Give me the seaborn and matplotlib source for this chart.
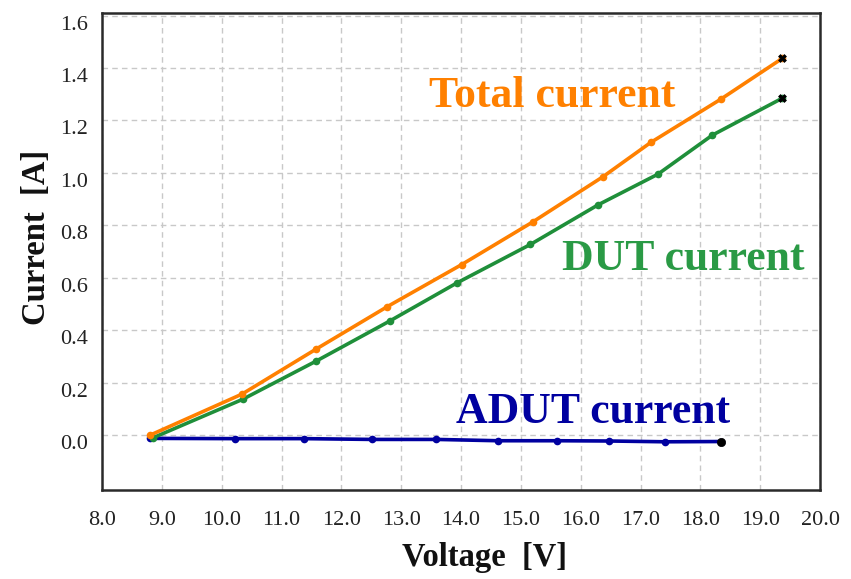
import matplotlib
matplotlib.use("Agg")
import matplotlib.pyplot as plt
import matplotlib.transforms as mtransforms
import numpy as np
import pandas as pd
import seaborn as sns

# Measured I-V data
voltage_total = [8.81, 10.34, 11.58, 12.77, 14.01, 15.20, 16.37, 17.17, 18.34, 19.37]
current_total = [0.00, 0.156, 0.328, 0.490, 0.650, 0.813, 0.985, 1.116, 1.281, 1.437]

voltage_dut = [8.86, 10.35, 11.58, 12.81, 13.93, 15.16, 16.29, 17.29, 18.20, 19.37]
current_dut = [-0.01, 0.136, 0.282, 0.435, 0.580, 0.727, 0.878, 0.995, 1.144, 1.285]

voltage_adut = [8.81, 10.22, 11.38, 12.51, 13.59, 14.62, 15.61, 16.47, 17.41, 18.35]
current_adut = [-0.013, -0.014, -0.014, -0.017, -0.017, -0.022, -0.022, -0.023, -0.026, -0.025]

x_ticks = [8.0, 9.0, 10.0, 11.0, 12.0, 13.0, 14.0, 15.0, 16.0, 17.0, 18.0, 19.0, 20.0]
y_ticks = [0.0, 0.2, 0.4, 0.6, 0.8, 1.0, 1.2, 1.4, 1.6]

series_names = ["Total current", "DUT current", "ADUT current"]
series_colors = ["#FF8000", "#1F8F3A", "#0000A0"]
label_colors = ["#FF8000", "#2A9A45", "#0000A0"]

sns.set_theme(style="white")
plt.rcParams["font.family"] = ["Liberation Serif", "DejaVu Serif"]

df = pd.concat([
    pd.DataFrame({"Voltage": voltage_total, "Current": current_total, "Series": series_names[0]}),
    pd.DataFrame({"Voltage": voltage_dut, "Current": current_dut, "Series": series_names[1]}),
    pd.DataFrame({"Voltage": voltage_adut, "Current": current_adut, "Series": series_names[2]}),
], ignore_index=True)

fig = plt.figure(figsize=(8.51, 5.79), dpi=100)
ax = fig.add_axes([0.1199, 0.1537, 0.8437, 0.8238])

palette = dict(zip(series_names, series_colors))
sns.lineplot(data=df, x="Voltage", y="Current", hue="Series", palette=palette,
             hue_order=[series_names[2], series_names[1], series_names[0]],
             marker="o", markersize=5.5, markeredgewidth=0, linewidth=2.6,
             legend=False, ax=ax, zorder=3)

# End-point markers
ends = pd.DataFrame({
    "Voltage": [voltage_total[-1], voltage_dut[-1]],
    "Current": [current_total[-1], current_dut[-1]],
})
sns.scatterplot(data=ends, x="Voltage", y="Current", marker="X", s=32,
                color="black", edgecolor="black", linewidth=0.5, ax=ax, zorder=4)
sns.scatterplot(x=[voltage_adut[-1]], y=[current_adut[-1]], marker="o", s=36,
                color="black", edgecolor="black", ax=ax, zorder=4)

ax.set_xlim(8.0, 20.0)
ax.set_ylim(-0.21, 1.61)
ax.set_xticks(x_ticks)
ax.set_xticklabels([f"{v:.1f}" for v in x_ticks])
ax.set_yticks(y_ticks)
ax.set_yticklabels([f"{v:.1f}" for v in y_ticks])
ax.tick_params(axis="both", length=0, labelsize=16, colors="#222222")
ax.tick_params(axis="x", pad=15)
ax.tick_params(axis="y", pad=10)

# Nudge y tick labels slightly downward
offset = mtransforms.ScaledTranslation(0, -7 / 100, fig.dpi_scale_trans)
for lbl in ax.get_yticklabels():
    lbl.set_transform(lbl.get_transform() + offset)

ax.grid(True, linestyle=(0, (4, 3)), color="#C8C8C8", linewidth=1.0, zorder=0)
ax.set_axisbelow(True)
for sp in ax.spines.values():
    sp.set_color("#2A2A2A")
    sp.set_linewidth(1.8)

ax.set_xlabel("Voltage  [V]", fontsize=23.5, fontweight="bold", color="#111111")
ax.set_ylabel("Current  [A]", fontsize=23.5, fontweight="bold", color="#111111")
ax.xaxis.set_label_coords(0.532, -0.110)
ax.yaxis.set_label_coords(-0.070, 0.53)

ax.text(13.46, 1.252, series_names[0], color=label_colors[0], fontsize=31.5,
        fontweight="bold", ha="left", va="baseline")
ax.text(15.68, 0.63, series_names[1], color=label_colors[1], fontsize=31.5,
        fontweight="bold", ha="left", va="baseline")
ax.text(13.91, 0.046, series_names[2], color=label_colors[2], fontsize=31.5,
        fontweight="bold", ha="left", va="baseline")

fig.savefig("out.png", dpi=100)
